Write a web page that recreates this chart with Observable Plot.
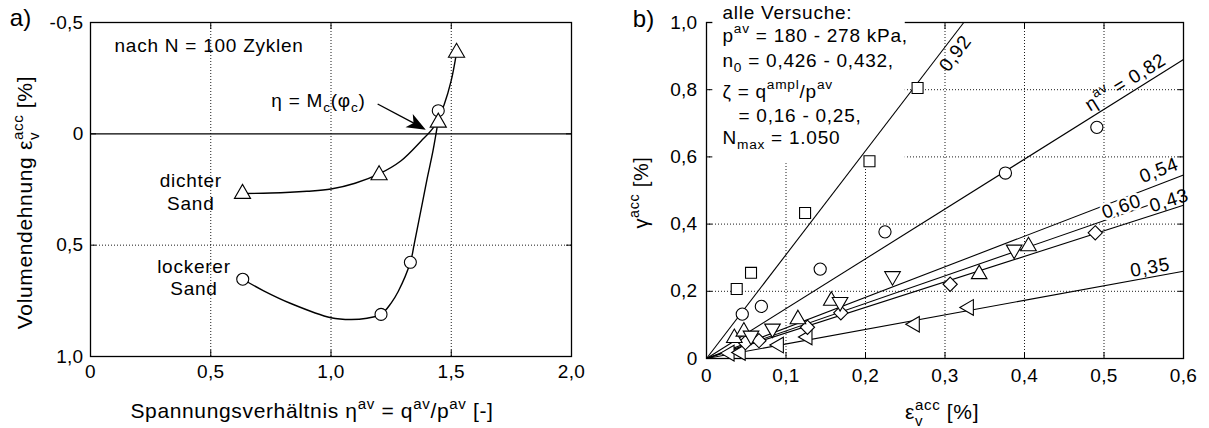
<!DOCTYPE html>
<html>
<head>
<meta charset="utf-8">
<script src="https://cdn.jsdelivr.net/npm/d3@7"></script>
<script src="https://cdn.jsdelivr.net/npm/@observablehq/plot@0.6"></script>
<style>
  html, body { margin: 0; padding: 0; background: #fff; }
  #fig { display: flex; width: 1209px; height: 428px; }
  #fig svg { flex: none; max-width: none; }
  g[aria-description="note"] text { letter-spacing: 0.75px; }
  g[aria-description="title"] text { letter-spacing: 0.65px; }
  g[aria-label="x-axis tick label"] text, g[aria-label="y-axis tick label"] text { letter-spacing: 0.3px; }
</style>
</head>
<body>
<div id="fig"></div>
<script>
// ---------- a) volumetric strain vs. average stress ratio after N = 100 cycles ----------
const aXTicks = [0, 0.5, 1, 1.5, 2];
const aXTickLabels = ["0", "0,5", "1,0", "1,5", "2,0"];
const aYTicks = [-0.5, 0, 0.5, 1];
const aYTickLabels = ["-0,5", "0", "0,5", "1,0"];
const aGridX = [0.5, 1, 1.5];
const aGridY = [0.5];

// dense sand (triangles) and loose sand (circles)
const denseEta = [0.632, 1.2, 1.446, 1.522];
const denseEps = [0.269, 0.185, -0.051, -0.365];
const looseEta = [0.633, 1.208, 1.33, 1.446];
const looseEps = [0.653, 0.811, 0.577, -0.104];

// fitted trend curves
const denseCurveEta = [0.633, 0.75, 0.9, 1.0, 1.1, 1.2, 1.29, 1.375, 1.425, 1.446, 1.47, 1.5, 1.522];
const denseCurveEps = [0.268, 0.266, 0.258, 0.248, 0.222, 0.18, 0.122, 0.032, -0.027, -0.07, -0.13, -0.24, -0.365];
const looseCurveEta = [0.633, 0.72, 0.833, 1.0, 1.083, 1.15, 1.208, 1.25, 1.28, 1.33, 1.346, 1.38, 1.40, 1.424, 1.446];
const looseCurveEps = [0.653, 0.705, 0.762, 0.826, 0.834, 0.828, 0.811, 0.76, 0.707, 0.577, 0.495, 0.31, 0.2, 0.077, -0.06];

// ---------- b) shear vs. volumetric strain accumulation ----------
const bXTicks = [0, 0.1, 0.2, 0.3, 0.4, 0.5, 0.6];
const bXTickLabels = ["0", "0,1", "0,2", "0,3", "0,4", "0,5", "0,6"];
const bYTicks = [0, 0.2, 0.4, 0.6, 0.8, 1.0];
const bYTickLabels = ["0", "0,2", "0,4", "0,6", "0,8", "1,0"];
const bGridX = [0.1, 0.2, 0.3, 0.4, 0.5];
const bGridY = [0.2, 0.4, 0.6, 0.8];

const sqEps = [0.038, 0.056, 0.124, 0.205, 0.2655];
const sqGam = [0.207, 0.255, 0.433, 0.587, 0.805];
const ciEps = [0.045, 0.069, 0.143, 0.2245, 0.376, 0.491];
const ciGam = [0.132, 0.155, 0.266, 0.377, 0.552, 0.688];
const dnEps = [0.056, 0.083, 0.168, 0.234, 0.387];
const dnGam = [0.068, 0.089, 0.168, 0.245, 0.324];
const upEps = [0.035, 0.047, 0.115, 0.157, 0.343, 0.405];
const upGam = [0.061, 0.080, 0.117, 0.172, 0.251, 0.334];
const dmEps = [0.049, 0.066, 0.127, 0.169, 0.3065, 0.489];
const dmGam = [0.047, 0.053, 0.093, 0.136, 0.221, 0.374];
const ltEps = [0.029, 0.043, 0.091, 0.127, 0.262, 0.330];
const ltGam = [0.016, 0.018, 0.040, 0.064, 0.102, 0.152];

// straight fits through the origin: gamma = slope * eps
const fitEta = ["0,92", "0,82", "0,54", "0,60", "0,43", "0,35"];
const fitSlope = [3.09, 1.483, 0.91, 0.82, 0.76, 0.433];
const fitXMax = [0.6, 0.6, 0.6, 0.555, 0.6, 0.6];

const notesB = [
  "alle Versuche:",
  "p^{av} = 180 - 278 kPa,",
  "n_{0} = 0,426 - 0,432,",
  "ζ = q^{ampl}/p^{av}",
  "= 0,16 - 0,25,",
  "N_{max} = 1.050"
];

// ---------- helpers ----------
const pts = (xs, ys) => xs.map((x, i) => ({x, y: ys[i]}));
const fmt = (ticks, labels) => {
  const m = new Map(ticks.map((t, i) => [t, labels[i]]));
  return d => m.get(d) ?? "";
};
const font = "'Liberation Sans', Arial, Helvetica, sans-serif";
const dotted = {stroke: "#000", strokeWidth: 0.9, strokeDasharray: "1,2"};
const open = {fill: "#fff", stroke: "#000", strokeWidth: 1.1};
const centered = {textAnchor: "middle", lineAnchor: "middle"};
const note = {ariaDescription: "note"};
const title = {ariaDescription: "title"};

function inwardTicks(xt, yt) {
  const blank = () => "";
  return [
    Plot.axisX({anchor: "bottom", ticks: xt, tickSize: 6, dy: -6, tickFormat: blank, label: null}),
    Plot.axisX({anchor: "top", ticks: xt, tickSize: 6, dy: 6, tickFormat: blank, label: null}),
    Plot.axisY({anchor: "left", ticks: yt, tickSize: 6, dx: 6, tickFormat: blank, label: null}),
    Plot.axisY({anchor: "right", ticks: yt, tickSize: 6, dx: -6, tickFormat: blank, label: null})
  ];
}

// filled arrowhead symbol, pointing up before rotation
const arrowHead = {
  draw(context) {
    context.moveTo(0, -11);
    context.lineTo(7.5, 8);
    context.lineTo(0, 3);
    context.lineTo(-7.5, 8);
    context.closePath();
  }
};

// ---------- panel a ----------
const plotA = Plot.plot({
  width: 604, height: 428,
  marginLeft: 90, marginRight: 33, marginTop: 22, marginBottom: 72,
  style: {fontFamily: font, fontSize: "19px", color: "#000", background: "#fff", overflow: "visible"},
  x: {domain: [0, 2]},
  y: {domain: [-0.5, 1], reverse: true},
  marks: [
    Plot.ruleX(aGridX, dotted),
    Plot.ruleY(aGridY, dotted),
    Plot.ruleY([0], {stroke: "#000", strokeWidth: 1.2}),
    Plot.frame({stroke: "#000", strokeWidth: 1.3}),
    ...inwardTicks(aXTicks, aYTicks),
    Plot.axisX({anchor: "bottom", ticks: aXTicks, tickFormat: fmt(aXTicks, aXTickLabels), tickSize: 0, tickPadding: 8, label: null, fontSize: 19}),
    Plot.axisY({anchor: "left", ticks: aYTicks, tickFormat: fmt(aYTicks, aYTickLabels), tickSize: 0, tickPadding: 7, label: null, fontSize: 19}),
    Plot.line(pts(denseCurveEta, denseCurveEps), {x: "x", y: "y", curve: "catmull-rom", stroke: "#000", strokeWidth: 1.4}),
    Plot.line(pts(looseCurveEta, looseCurveEps), {x: "x", y: "y", curve: "catmull-rom", stroke: "#000", strokeWidth: 1.4}),
    Plot.dot(pts(looseEta, looseEps), {x: "x", y: "y", symbol: "circle", r: 6, ...open}),
    Plot.dot(pts(denseEta, denseEps), {x: "x", y: "y", symbol: "triangle", r: 6, ...open}),
    // arrow pointing at the critical-state stress ratio
    Plot.link([{x1: 1.194, y1: -0.134, x2: 1.354, y2: -0.042}], {x1: "x1", y1: "y1", x2: "x2", y2: "y2", stroke: "#000", strokeWidth: 1.4}),
    Plot.dot([0], {x: () => 1.354, y: () => -0.042, symbol: arrowHead, rotate: 119, fill: "#000", stroke: "none"}),
    Plot.text(["nach N = 100 Zyklen"], {x: () => 0.1, y: () => -0.396, text: d => d, textAnchor: "start", ...note}),
    Plot.text(["η = M_{c}(φ_{c})"], {x: () => 0.752, y: () => -0.149, text: d => d, textAnchor: "start", ...note}),
    Plot.text(["dichter\nSand"], {x: () => 0.417, y: () => 0.258, text: d => d, lineHeight: 1.2, ...note}),
    Plot.text(["lockerer\nSand"], {x: () => 0.43, y: () => 0.642, text: d => d, lineHeight: 1.2, ...note}),
    Plot.text(["Spannungsverhältnis η^{av} = q^{av}/p^{av} [-]"], {frameAnchor: "bottom", dx: -19, dy: 55, text: d => d, fontSize: 21, ...centered, ...title}),
    Plot.text(["Volumendehnung ε_{v}^{acc} [%]"], {frameAnchor: "left", rotate: -90, dx: -65, dy: 13, text: d => d, fontSize: 21, ...centered, ...title}),
    Plot.text(["a)"], {frameAnchor: "top-left", dx: -70, dy: -4, text: d => d, fontSize: 24, ...centered})
  ]
});

// ---------- panel b ----------
const fits = fitEta.map((eta, i) => {
  const xe = Math.min(fitXMax[i], 1 / fitSlope[i]);
  return {eta, x1: 0, y1: 0, x2: xe, y2: xe * fitSlope[i]};
});
const noteRows = [-10, 13, 38, 69, 93, 115];
const noteIndent = [16, 16, 16, 16, 32, 16];

const plotB = Plot.plot({
  width: 605, height: 428,
  marginLeft: 102, marginRight: 26, marginTop: 22, marginBottom: 70,
  style: {fontFamily: font, fontSize: "19px", color: "#000", background: "#fff", overflow: "visible"},
  x: {domain: [0, 0.6]},
  y: {domain: [0, 1]},
  marks: [
    Plot.ruleX(bGridX, dotted),
    Plot.ruleY(bGridY, dotted),
    Plot.frame({stroke: "#000", strokeWidth: 1.3}),
    ...inwardTicks(bXTicks, bYTicks),
    Plot.axisX({anchor: "bottom", ticks: bXTicks, tickFormat: fmt(bXTicks, bXTickLabels), tickSize: 0, tickPadding: 10, label: null, fontSize: 19}),
    Plot.axisY({anchor: "left", ticks: bYTicks, tickFormat: fmt(bYTicks, bYTickLabels), tickSize: 0, tickPadding: 9, label: null, fontSize: 19}),
    // blank panel behind the test-condition notes
    Plot.rect([0], {x1: () => 0.008, x2: () => 0.25, y1: () => 0.58, y2: () => 1, insetTop: -2, fill: "#fff"}),
    Plot.link(fits, {x1: "x1", y1: "y1", x2: "x2", y2: "y2", stroke: "#000", strokeWidth: 1.1}),
    Plot.dot(pts(ltEps, ltGam), {x: "x", y: "y", symbol: "triangle", rotate: -90, r: 5.8, ...open}),
    Plot.dot(pts(dmEps, dmGam), {x: "x", y: "y", symbol: "diamond2", r: 6.4, ...open}),
    Plot.dot(pts(upEps, upGam), {x: "x", y: "y", symbol: "triangle", r: 5.8, ...open}),
    Plot.dot(pts(dnEps, dnGam), {x: "x", y: "y", symbol: "triangle", rotate: 180, r: 5.8, ...open}),
    Plot.dot(pts(ciEps, ciGam), {x: "x", y: "y", symbol: "circle", r: 6.1, ...open}),
    Plot.dot(pts(sqEps, sqGam), {x: "x", y: "y", symbol: "square", r: 6.2, ...open}),
    Plot.text([fitEta[0]], {x: () => 0.313, y: () => 0.908, rotate: -53, text: d => d, ...note}),
    Plot.text(["η^{av} = " + fitEta[1]], {x: () => 0.527, y: () => 0.822, rotate: -32, text: d => d, ...note}),
    Plot.text([fitEta[2]], {x: () => 0.569, y: () => 0.56, rotate: -21, text: d => d, ...note}),
    Plot.text([fitEta[3]], {x: () => 0.522, y: () => 0.452, rotate: -19, text: d => d, stroke: "#fff", strokeWidth: 5, fill: "#000", ...note}),
    Plot.text([fitEta[4]], {x: () => 0.582, y: () => 0.47, rotate: -18, text: d => d, ...note}),
    Plot.text([fitEta[5]], {x: () => 0.558, y: () => 0.271, rotate: -10, text: d => d, ...note}),
    ...notesB.map((s, i) => Plot.text([s], {frameAnchor: "top-left", dx: noteIndent[i], dy: noteRows[i], text: d => d, textAnchor: "start", lineAnchor: "middle", ...note})),
    Plot.text(["ε_{v}^{acc} [%]"], {frameAnchor: "bottom", dx: -3, dy: 54, text: d => d, fontSize: 21, ...centered, ...title}),
    Plot.text(["γ^{acc} [%]"], {frameAnchor: "left", rotate: -90, dx: -65, dy: 2, text: d => d, fontSize: 20, ...centered, ...title}),
    Plot.text(["b)"], {frameAnchor: "top-left", dx: -63, dy: -3, text: d => d, fontSize: 24, ...centered})
  ]
});

const fig = document.getElementById("fig");
fig.append(plotA, plotB);

// turn ^{...} / _{...} markup into super- and subscript tspans
function parseRich(s) {
  const parts = [];
  const re = /([_^])\{([^}]*)\}/g;
  let last = 0, m;
  while ((m = re.exec(s))) {
    if (m.index > last) parts.push({t: "n", s: s.slice(last, m.index)});
    parts.push({t: m[1] === "^" ? "sup" : "sub", s: m[2]});
    last = re.lastIndex;
  }
  if (last < s.length) parts.push({t: "n", s: s.slice(last)});
  return parts;
}
function applyRich(root) {
  const ns = "http://www.w3.org/2000/svg";
  root.querySelectorAll("text, tspan").forEach(el => {
    if (el.children.length) return;
    const s = el.textContent;
    if (!/[_^]\{/.test(s)) return;
    const fs = parseFloat(getComputedStyle(el).fontSize);
    el.textContent = "";
    let shift = 0, prev = null, prevEl = null;
    for (const p of parseRich(s)) {
      const ts = document.createElementNS(ns, "tspan");
      const target = p.t === "sup" ? -0.45 * fs : p.t === "sub" ? 0.3 * fs : 0;
      ts.setAttribute("dy", target - shift);
      shift = target;
      if (p.t !== "n") ts.setAttribute("font-size", (0.72 * fs).toFixed(1));
      ts.textContent = p.s;
      el.appendChild(ts);
      if (p.t === "sup" && prev && prev.t === "sub") ts.setAttribute("dx", -prevEl.getComputedTextLength());
      prev = p; prevEl = ts;
    }
  });
}
applyRich(fig);
</script>
</body>
</html>
